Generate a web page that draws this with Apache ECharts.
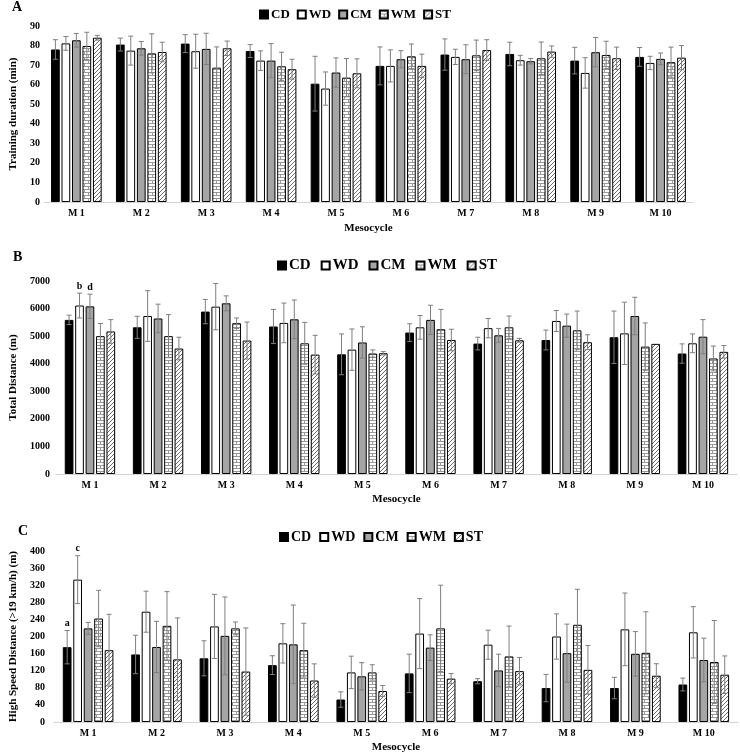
<!DOCTYPE html>
<html><head><meta charset="utf-8">
<script src="https://cdn.jsdelivr.net/npm/echarts@6/dist/echarts.min.js"></script>
<style>html,body{margin:0;padding:0;background:#fff}#c{width:740px;height:754px}</style>
</head><body><div id="c"></div>
<script>
// ---------- DATA ----------
const categories = ['M 1','M 2','M 3','M 4','M 5','M 6','M 7','M 8','M 9','M 10'];
const seriesNames = ['CD','WD','CM','WM','ST'];

// Panel A: Training duration (min)
const durCD = [78, 80.5, 81, 77.2, 60.5, 69.6, 75.4, 75.7, 72.3, 74.2];
const durCDsd = [5, 3.3, 4.6, 3.3, 14, 9.7, 8, 6, 6.8, 4.8];
const durWD = [81.1, 77.4, 77.1, 72.3, 58, 69.6, 74.2, 72.5, 66, 71.1];
const durWDsd = [3.5, 7.4, 8.7, 5, 8.5, 8.2, 3.9, 2.5, 7.8, 3.4];
const durCM = [82.7, 78.6, 78.3, 72.3, 66.2, 73, 73, 72, 76.6, 73.2];
const durCMsd = [3.5, 3.5, 8, 8.7, 7.5, 4.4, 7.4, 1.4, 7.5, 3];
const durWM = [79.8, 76, 68.7, 69.4, 63.6, 74.5, 75, 73.5, 75.2, 71.5];
const durWMsd = [7, 10, 10.6, 7.2, 9.8, 6.3, 7.8, 8.3, 7, 7.7];
const durST = [84, 76.7, 78.6, 67.9, 65.8, 69.6, 77.7, 76.9, 73.5, 73.8];
const durSTsd = [1.2, 5, 3.7, 5.1, 7.4, 6, 5.3, 2.9, 5.7, 6.2];

// Panel B: Total Distance (m)
const tdCD = [5590, 5320, 5890, 5350, 4340, 5130, 4730, 4860, 4960, 4370];
const tdCDsd = [170, 400, 440, 620, 740, 320, 230, 360, 950, 350];
const tdWD = [6110, 5730, 6070, 5480, 4510, 5320, 5290, 5550, 5100, 4740];
const tdWDsd = [450, 920, 840, 720, 750, 430, 350, 380, 1130, 340];
const tdCM = [6080, 5640, 6190, 5610, 4770, 5590, 5030, 5380, 5730, 4980];
const tdCMsd = [440, 520, 270, 700, 570, 530, 250, 420, 680, 620];
const tdWM = [5000, 5000, 5470, 4740, 4370, 5250, 5320, 5210, 4620, 4190];
const tdWMsd = [460, 780, 190, 760, 130, 720, 410, 700, 860, 450];
const tdST = [5170, 4550, 4840, 4330, 4380, 4860, 4850, 4780, 4720, 4430];
const tdSTsd = [430, 410, 670, 700, 60, 390, 70, 270, 0, 230];

// Panel C: High Speed Distance (>19 km/h) (m)
const hsCD = [175, 158, 149, 133, 52.6, 113.7, 95.4, 79.4, 79.4, 87.7];
const hsCDsd = [39, 45, 41, 22, 18, 45, 6, 32, 25, 15];
const hsWD = [333, 258, 223.6, 184, 116, 206.8, 180.8, 200, 216.7, 209.8];
const hsWDsd = [56, 48, 75, 46, 38, 82, 34, 53, 85, 60];
const hsCM = [219, 175.5, 201.5, 181.6, 106.8, 174, 120.6, 161, 159.5, 145];
const hsCMsd = [14, 60, 91, 92, 32, 30, 38, 68, 52, 51];
const hsWM = [242, 225, 219, 168, 116, 219, 153.4, 227.4, 161.8, 140.4];
const hsWMsd = [66, 80, 15, 63, 18, 101, 71, 83, 96, 97];
const hsST = [168, 146.5, 118, 97, 72.5, 101.5, 119, 122, 108.3, 110.6];
const hsSTsd = [84, 97, 102, 39, 13, 12, 32, 57, 28, 44];

// significance letters: [category index, series index, letter]
const notesB = [[0, 1, 'b'], [0, 2, 'd']];
const notesC = [[0, 0, 'a'], [0, 1, 'c']];

const yTitles = ['Training duration (min)', 'Total Distance (m)', 'High Speed Distance (>19 km/h) (m)'];
const yMax = [90, 7000, 400];
const yInterval = [10, 1000, 40];
const panelLetters = ['A', 'B', 'C'];

// ---------- STYLE ----------
const FF = "'Liberation Serif','Times New Roman',serif";
function brickPattern(){
  const c = document.createElement('canvas'); c.width = 8; c.height = 6;
  const g = c.getContext('2d');
  g.fillStyle = '#fff'; g.fillRect(0,0,8,6);
  g.strokeStyle = '#9a9a9a'; g.lineWidth = 1; g.beginPath();
  g.moveTo(0,0.5); g.lineTo(8,0.5); g.moveTo(0,3.5); g.lineTo(8,3.5);
  g.moveTo(0.5,0); g.lineTo(0.5,3.5); g.moveTo(4.5,3.5); g.lineTo(4.5,6);
  g.stroke(); return c;
}
function hatchPattern(){
  const c = document.createElement('canvas'); c.width = 4; c.height = 4;
  const g = c.getContext('2d');
  g.fillStyle = '#fff'; g.fillRect(0,0,4,4);
  g.strokeStyle = '#6f6f6f'; g.lineWidth = 1; g.beginPath();
  g.moveTo(-1,5); g.lineTo(5,-1); g.moveTo(-1,1); g.lineTo(1,-1); g.moveTo(3,5); g.lineTo(5,3);
  g.stroke(); return c;
}
const fills = ['#000000', '#ffffff', '#a5a5a5', {image: brickPattern(), repeat: 'repeat'}, {image: hatchPattern(), repeat: 'repeat'}];

const panels = [
  {means:[durCD,durWD,durCM,durWM,durST], sds:[durCDsd,durWDsd,durCMsd,durWMsd,durSTsd], notes:[]},
  {means:[tdCD,tdWD,tdCM,tdWM,tdST], sds:[tdCDsd,tdWDsd,tdCMsd,tdWMsd,tdSTsd], notes:notesB},
  {means:[hsCD,hsWD,hsCM,hsWM,hsST], sds:[hsCDsd,hsWDsd,hsCMsd,hsWMsd,hsSTsd], notes:notesC}
];

const grids = [
  {left:30, width:663, top:26, height:176},
  {left:37, width:700, top:281, height:193},
  {left:38, width:700, top:551, height:175}
];
const catGap = [0.22, 0.26, 0.26];
const barGapF = 0.2;
const yNameGap = [16, 25, 26];
const yLabelMargin = [4, 6, 9];
const legendPos = [{left:254, top:3, fs:13, gap:7}, {left:272, top:253, fs:15, gap:10}, {left:274, top:525, fs:14, gap:8}];
const letterPos = [[12,0],[13,250],[18,524]];

const series = [];
panels.forEach((p, pi) => {
  seriesNames.forEach((nm, si) => {
    series.push({
      type:'bar', name:nm, xAxisIndex:pi, yAxisIndex:pi, data:p.means[si],
      barGap:(barGapF*100)+'%', barCategoryGap:(catGap[pi]*100)+'%',
      itemStyle:{color:fills[si], borderColor:'#000', borderWidth:1},
      emphasis:{disabled:true}, silent:true
    });
  });
  const items = [];
  const noteMap = {};
  p.notes.forEach(n => { noteMap[n[0]+'_'+n[1]] = n[2]; });
  seriesNames.forEach((nm, si) => {
    p.means[si].forEach((m, ci) => items.push([ci, si, m, p.sds[si][ci]]));
  });
  const cg = catGap[pi];
  series.push({
    type:'custom', xAxisIndex:pi, yAxisIndex:pi, data:items, z:10, silent:true,
    encode:{x:0, y:2},
    renderItem:(params, api) => {
      const ci = api.value(0), si = api.value(1), m = api.value(2), e = api.value(3);
      const n = 5;
      const band = api.size([1,0])[0];
      const w = band*(1-cg)/(n+(n-1)*barGapF);
      const total = n*w + (n-1)*barGapF*w;
      const c = api.coord([ci, m]);
      const x = c[0] - total/2 + si*(1+barGapF)*w + w/2;
      const yT = api.coord([ci, m+e])[1], yB = api.coord([ci, m-e])[1];
      const st = {stroke:'#7f7f7f', lineWidth:1};
      const ch = [];
      if (e > 0) {
        ch.push({type:'line', shape:{x1:x, y1:yT, x2:x, y2:yB}, style:st});
        ch.push({type:'line', shape:{x1:x-2.5, y1:yT, x2:x+2.5, y2:yT}, style:st});
        ch.push({type:'line', shape:{x1:x-2.5, y1:yB, x2:x+2.5, y2:yB}, style:st});
      }
      const note = noteMap[ci+'_'+si];
      if (note) {
        ch.push({type:'text', x:x, y:yT-2, style:{text:note, font:'bold 10px '+FF, fill:'#000', textAlign:'center', textVerticalAlign:'bottom'}});
      }
      return {type:'group', children:ch};
    }
  });
});

const option = {
  animation:false,
  backgroundColor:'#fff',
  grid: grids.map(g => Object.assign({containLabel:false}, g)),
  legend: legendPos.map(l => ({
    left:l.left, top:l.top, itemWidth:8, itemHeight:8, itemGap:l.gap, selectedMode:false, icon:'rect',
    data:seriesNames,
    textStyle:{fontFamily:FF, fontWeight:'bold', fontSize:l.fs, color:'#000', padding:[0,0,0,-2]}
  })),
  xAxis: grids.map((g, i) => ({
    type:'category', gridIndex:i, data:categories,
    axisLine:{show:true, lineStyle:{color:'#d4d4d4', width:1}},
    axisTick:{show:false},
    axisLabel:{fontFamily:FF, fontWeight:'bold', fontSize:10, color:'#000', margin:6},
    name:'Mesocycle', nameLocation:'middle', nameGap:i===0?21:20,
    nameTextStyle:{fontFamily:FF, fontWeight:'bold', fontSize:11, color:'#000'}
  })),
  yAxis: grids.map((g, i) => ({
    type:'value', gridIndex:i, min:0, max:yMax[i], interval:yInterval[i],
    axisLine:{show:false}, axisTick:{show:false}, splitLine:{show:false},
    axisLabel:{fontFamily:FF, fontWeight:'bold', fontSize:10, color:'#000', margin:yLabelMargin[i], formatter:v => String(v)},
    name:yTitles[i], nameLocation:'middle', nameGap:yNameGap[i],
    nameTextStyle:{fontFamily:FF, fontWeight:'bold', fontSize:11, color:'#000'}
  })),
  graphic: panelLetters.map((t, i) => ({
    type:'text', left:letterPos[i][0], top:letterPos[i][1],
    style:{text:t, font:'bold 14px '+FF, fill:'#000'}
  })),
  series: series
};

const chart = echarts.init(document.getElementById('c'), null, {renderer:'canvas'});
chart.setOption(option);
</script>
</body></html>
